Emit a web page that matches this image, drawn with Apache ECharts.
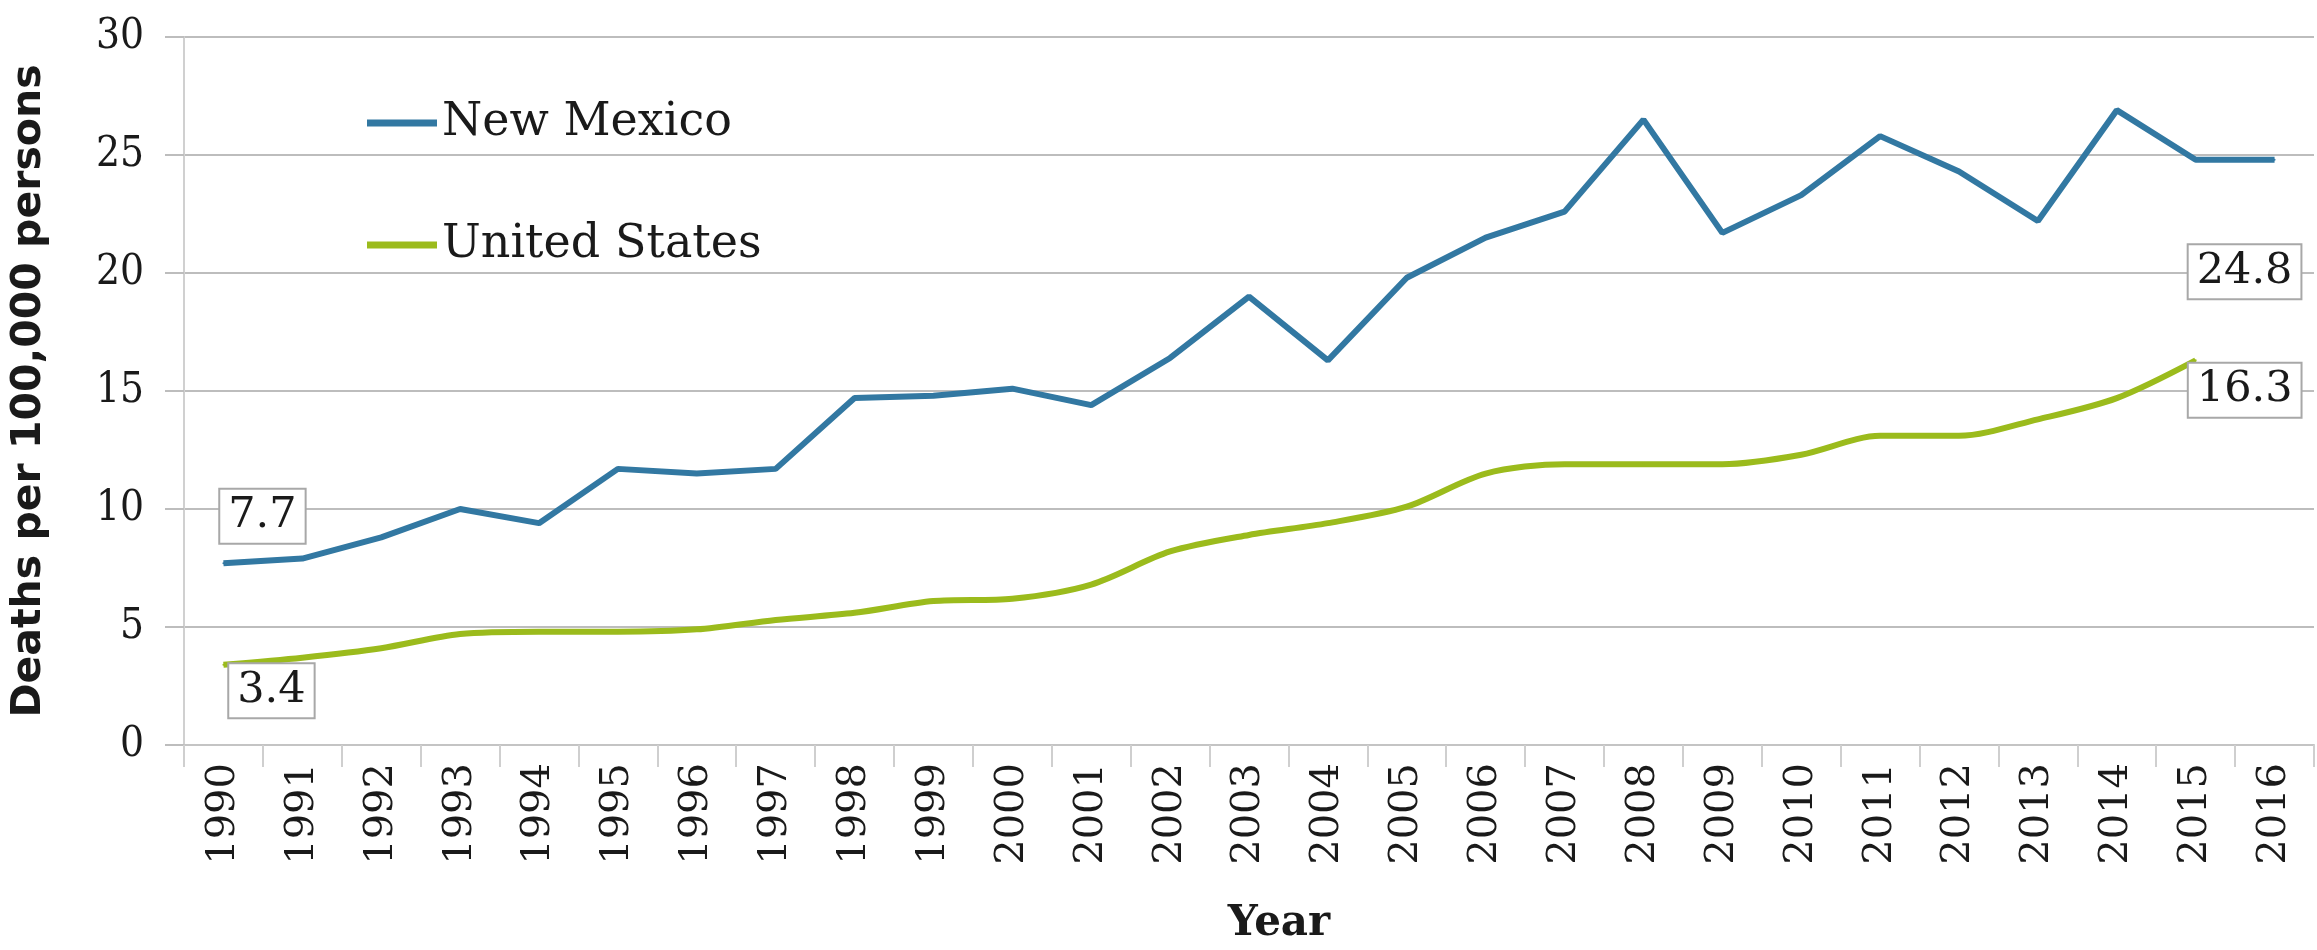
<!DOCTYPE html>
<html>
<head>
<meta charset="utf-8">
<script src="https://cdn.jsdelivr.net/npm/echarts@6/dist/echarts.min.js"></script>
<style>
html,body{margin:0;padding:0;background:#fff;}
#chart{width:2317px;height:950px;}
</style>
</head>
<body>
<div id="chart"></div>
<script>
const years = ['1990','1991','1992','1993','1994','1995','1996','1997','1998','1999','2000','2001','2002','2003','2004','2005','2006','2007','2008','2009','2010','2011','2012','2013','2014','2015','2016'];
const newMexico = [7.7, 7.9, 8.8, 10.0, 9.4, 11.7, 11.5, 11.7, 14.7, 14.8, 15.1, 14.4, 16.4, 19.0, 16.3, 19.8, 21.5, 22.6, 26.5, 21.7, 23.3, 25.8, 24.3, 22.2, 26.9, 24.8, 24.8];
const unitedStates = [3.4, 3.7, 4.1, 4.7, 4.8, 4.8, 4.9, 5.3, 5.6, 6.1, 6.2, 6.8, 8.2, 8.9, 9.4, 10.1, 11.5, 11.9, 11.9, 11.9, 12.3, 13.1, 13.1, 13.8, 14.7, 16.3, null];
const seriesNames = ['New Mexico', 'United States'];
const yTicks = [0, 5, 10, 15, 20, 25, 30];

const labelFont = "'DejaVu Serif', serif";
function boxLabel(offset) {
  return {
    show: true,
    position: 'inside',
    offset: offset,
    formatter: p => String(p.value),
    fontFamily: labelFont,
    fontSize: 43,
    color: '#1a1a1a',
    backgroundColor: '#fff',
    borderColor: '#a8a8a8',
    borderWidth: 2,
    padding: [6, 8, 4, 8]
  };
}
function buildData(values, labels) {
  return values.map((v, i) => labels[i] ? { value: v, label: labels[i] } : v);
}
const nmData = buildData(newMexico, { 0: boxLabel([39, -47]), 26: boxLabel([-30, 112]) });
const usData = buildData(unitedStates, { 0: boxLabel([48, 26]), 25: boxLabel([49, 30]) });

const chart = echarts.init(document.getElementById('chart'));
chart.setOption({
  animation: false,
  backgroundColor: '#fff',
  grid: { left: 184, right: 3, top: 37, bottom: 202, containLabel: false },
  legend: {
    data: seriesNames,
    orient: 'vertical',
    left: 362,
    top: 94,
    itemGap: 74,
    itemWidth: 70,
    itemHeight: 7,
    icon: 'rect',
    textStyle: { fontFamily: labelFont, fontSize: 46, color: '#1a1a1a', lineHeight: 48 }
  },
  xAxis: {
    type: 'category',
    data: years,
    boundaryGap: true,
    name: 'Year',
    nameLocation: 'middle',
    nameGap: 158,
    nameTextStyle: { fontFamily: labelFont, fontWeight: 'bold', fontSize: 42, color: '#1a1a1a', padding: [0, 0, 0, 60] },
    axisLine: { show: true, lineStyle: { color: '#c4c4c4', width: 2 } },
    axisTick: { show: true, length: 22, lineStyle: { color: '#cfcfcf', width: 2 } },
    axisLabel: { rotate: 90, margin: 18, fontFamily: labelFont, fontSize: 40, color: '#1a1a1a' },
    splitLine: { show: false }
  },
  yAxis: {
    type: 'value',
    min: 0, max: 30, interval: 5,
    name: 'Deaths per 100,000 persons',
    nameLocation: 'middle',
    nameGap: 134,
    nameTextStyle: { fontFamily: "'DejaVu Sans', sans-serif", fontWeight: 'bold', fontSize: 41, color: '#1a1a1a' },
    axisLine: { show: true, lineStyle: { color: '#d0d0d0', width: 2 } },
    axisTick: { show: true, length: 19, lineStyle: { color: '#bdbdbd', width: 2 } },
    axisLabel: { margin: 40, fontFamily: "'DejaVu Serif Condensed', 'Liberation Serif', serif", fontSize: 42, color: '#1a1a1a',
      formatter: v => yTicks.includes(v) ? String(v) : '' },
    splitLine: { show: true, lineStyle: { color: '#bdbdbd', width: 2 } }
  },
  series: [
    {
      name: seriesNames[0],
      type: 'line',
      data: nmData,
      symbol: 'circle',
      symbolSize: 2,
      showSymbol: true,
      lineStyle: { color: '#3278a2', width: 6 },
      itemStyle: { color: '#3278a2' },
      label: { show: false },
      z: 3
    },
    {
      name: seriesNames[1],
      type: 'line',
      data: usData,
      smooth: 0.3,
      symbol: 'circle',
      symbolSize: 2,
      showSymbol: true,
      lineStyle: { color: '#9bbb1c', width: 6 },
      itemStyle: { color: '#9bbb1c' },
      label: { show: false },
      z: 3
    }
  ]
});
</script>
</body>
</html>
